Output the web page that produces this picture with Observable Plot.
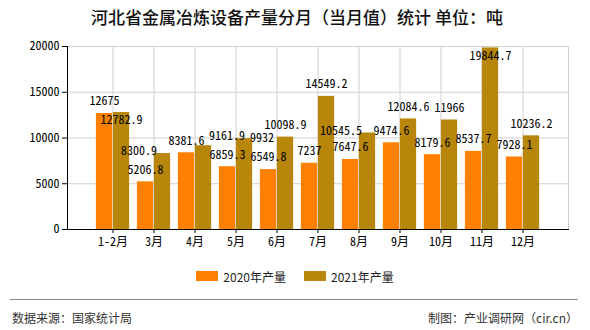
<!DOCTYPE html>
<html>
<head>
<meta charset="utf-8">
<script src="https://cdn.jsdelivr.net/npm/d3@7"></script>
<script src="https://cdn.jsdelivr.net/npm/@observablehq/plot@0.6"></script>
<style>
  html, body { margin: 0; padding: 0; background: #fff; }
  #wrap { position: relative; width: 590px; height: 330px; overflow: hidden; font-family: "Noto Sans CJK SC", sans-serif; }
  #title { position: absolute; left: 0; top: 6px; width: 594px; text-align: center; font-size: 17px; font-weight: 500; color: #111; line-height: 22px; }
  #chart { position: absolute; left: 0; top: 30px; }
  #legend { position: absolute; left: 0; top: 268px; width: 590px; height: 16px; display: flex; justify-content: center; align-items: center; font-size: 12px; color: #222; }
  .sw { display: inline-block; width: 22px; height: 10px; margin-right: 5px; }
  .item { display: flex; align-items: center; margin: 0 9px; }
  #sep { position: absolute; left: 10px; top: 299px; width: 568px; height: 0; border-top: 1px solid #888; }
  #src { position: absolute; left: 12px; top: 309px; font-size: 12px; color: #333; line-height: 18px; }
  #made { position: absolute; right: 12px; top: 309px; font-size: 12px; color: #333; line-height: 18px; }
</style>
</head>
<body>
<div id="wrap">
  <div id="title">河北省金属冶炼设备产量分月（当月值）统计 单位：吨</div>
  <div id="chart"></div>
  <div id="legend">
    <div class="item"><span class="sw" style="background:#FF8000"></span>2020年产量</div>
    <div class="item"><span class="sw" style="background:#B8860B"></span>2021年产量</div>
  </div>
  <div id="sep"></div>
  <div id="src">数据来源：国家统计局</div>
  <div id="made">制图：产业调研网（cir.cn）</div>
</div>
<script>
const months = ["1-2月", "3月", "4月", "5月", "6月", "7月", "8月", "9月", "10月", "11月", "12月"];
const values2020 = [12675, 5206.8, 8381.6, 6859.3, 6549.8, 7237, 7647.6, 9474.6, 8179.6, 8537.7, 7928.1];
const values2021 = [12782.9, 8300.9, 9161.9, 9932, 10098.9, 14549.2, 10545.5, 12084.6, 11966, 19844.7, 10236.2];
const yTicks = [0, 5000, 10000, 15000, 20000];
const colors = ["#FF8000", "#B8860B"];

const W = 590, H = 229, ML = 67, MR = 22, MT = 16, MB = 30;
const yMax = 20000;
const BW = 17; // bar width
const numFont = "'Noto Sans Mono CJK SC', 'DejaVu Sans Mono', monospace";

const xOpts = {type: "band", domain: months, paddingInner: 0, paddingOuter: 0.5, label: null};
const yOpts = {domain: [0, yMax], label: null};

// library scales, used to lay out value labels without collisions
const xs = Plot.scale({x: {...xOpts, range: [ML, W - MR]}});
const ys = Plot.scale({y: {...yOpts, range: [H - MB, MT]}});
const step = xs.bandwidth;
const cx = m => xs.apply(m) + step / 2;

const ctx = document.createElement("canvas").getContext("2d");
ctx.font = "12px " + numFont;
const tw = s => ctx.measureText(s).width;

const placed = [];
const PAD = 1.5;
function overlaps(b) {
  return placed.some(p => b.x0 < p.x1 + PAD && b.x1 > p.x0 - PAD && b.y0 < p.y1 + PAD && b.y1 > p.y0 - PAD);
}
function box(x, y, w) { return {x0: x - w / 2, x1: x + w / 2, y0: y - 6, y1: y + 6}; }

const labels = [];
// 2020 labels above their bars
months.forEach((m, i) => {
  const v = values2020[i], s = String(v), w = tw(s);
  const bx = cx(m) - BW / 2, by = ys.apply(v);
  placed.push(box(bx, by - 12, w));
  labels.push({month: m, value: v, text: s, dx: -BW / 2, dy: -12});
});
// 2021 labels: above, inside the bar top, or beside the bar top
months.forEach((m, i) => {
  const v = values2021[i], s = String(v), w = tw(s);
  const bx = cx(m) + BW / 2, by = ys.apply(v);
  const side = w / 2 + BW / 2;
  const candidates = [[0, -12], [0, 8], [-(side - 3), -2], [side - 3, 0], [side - 3, -10], [side + 3, 0], [-(side - 3), -10], [0, -26]];
  let chosen = null;
  for (const [ox, oy] of candidates) {
    const b = box(bx + ox, by + oy, w);
    if (b.y0 < MT) continue;
    if (!overlaps(b)) { chosen = [ox, oy, b]; break; }
  }
  if (!chosen) chosen = [0, -12, box(bx, by - 12, w)];
  placed.push(chosen[2]);
  labels.push({month: m, value: v, text: s, dx: BW / 2 + chosen[0], dy: chosen[1]});
});

const d2020 = months.map((m, i) => ({month: m, value: values2020[i]}));
const d2021 = months.map((m, i) => ({month: m, value: values2021[i]}));

const chart = Plot.plot({
  width: W,
  height: H,
  marginLeft: ML,
  marginRight: MR,
  marginTop: MT,
  marginBottom: MB,
  style: {fontFamily: numFont, fontSize: "12px", color: "#000", background: "transparent"},
  x: xOpts,
  y: yOpts,
  marks: [
    Plot.ruleY(yTicks.filter(t => t > 0), {stroke: "#cfcfcf", strokeWidth: 1}),
    Plot.ruleX(months, {x: d => d, stroke: "#cfcfcf", strokeWidth: 1}),
    Plot.frame({anchor: "right", stroke: "#cfcfcf"}),
    Plot.barY(d2020, {x: "month", y: "value", fill: colors[0], insetLeft: step / 2 - BW, insetRight: step / 2}),
    Plot.barY(d2021, {x: "month", y: "value", fill: colors[1], insetLeft: step / 2, insetRight: step / 2 - BW}),
    ...labels.map(l => Plot.text([l], {x: "month", y: "value", text: "text", dx: l.dx, dy: l.dy, fill: "#000", fontSize: 12})),
    Plot.axisY({ticks: yTicks, tickSize: 5, tickPadding: 3, tickFormat: d => String(d), fontSize: 12, stroke: "#000"}),
    Plot.axisX({tickSize: 4, tickPadding: 4, fontSize: 12, fontFamily: numFont, stroke: "#000"}),
    Plot.frame({anchor: "left", stroke: "#000"}),
    Plot.frame({anchor: "bottom", stroke: "#000"})
  ]
});
document.getElementById("chart").appendChild(chart);
</script>
</body>
</html>
